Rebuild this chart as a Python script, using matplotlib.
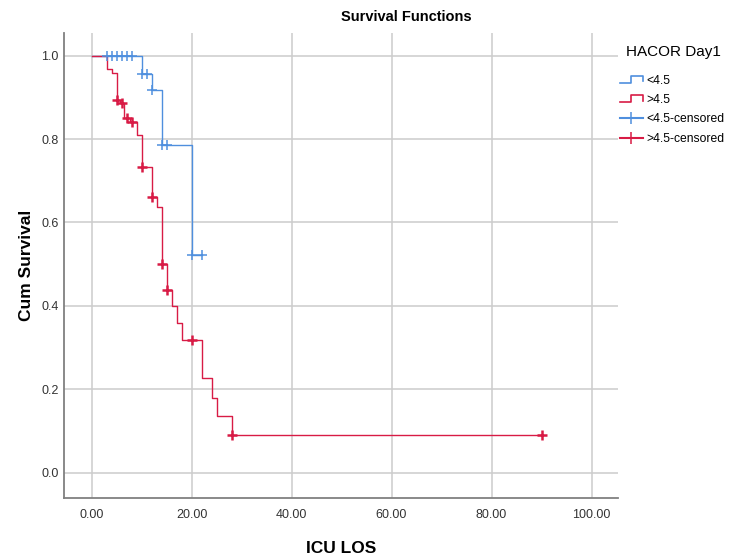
import matplotlib
matplotlib.use("Agg")
import matplotlib.pyplot as plt
from matplotlib.lines import Line2D
from matplotlib.legend_handler import HandlerBase

plt.rcParams['font.family'] = ['Liberation Sans', 'DejaVu Sans']

# Kaplan-Meier steps, HACOR Day1 < 4.5
low_times = [0, 10, 12, 14, 20, 22]
low_surv = [1.0, 0.956, 0.918, 0.786, 0.523, 0.523]
low_cens_t = [3, 4, 5, 6, 7, 8, 10, 11, 12, 14, 15, 20, 22]
low_cens_s = [1.0, 1.0, 1.0, 1.0, 1.0, 1.0, 0.956, 0.956, 0.918, 0.786, 0.786, 0.523, 0.523]

# HACOR Day1 > 4.5
high_times = [0, 3, 4, 5, 5.6, 6.4, 7.6, 9, 10, 12, 13, 14, 15, 16, 17, 18, 22, 24, 25, 28, 90]
high_surv = [1.0, 0.968, 0.958, 0.894, 0.886, 0.850, 0.840, 0.810, 0.732, 0.662, 0.638,
             0.500, 0.438, 0.400, 0.358, 0.318, 0.227, 0.180, 0.135, 0.090, 0.090]
high_cens_t = [5, 6, 7, 8, 10, 12, 14, 15, 20, 28, 90]
high_cens_s = [0.894, 0.886, 0.850, 0.840, 0.732, 0.662, 0.500, 0.438, 0.318, 0.090, 0.090]

xticks = [0, 20, 40, 60, 80, 100]
yticks = [0.0, 0.2, 0.4, 0.6, 0.8, 1.0]

blue = '#4f8fde'
red = '#d81b45'


class StepHandler(HandlerBase):
    # draws the little step glyph SPSS uses in its legend
    def create_artists(self, legend, orig_handle, xdescent, ydescent,
                       width, height, fontsize, trans):
        x0, y0 = -xdescent, -ydescent
        xs = [x0, x0 + 0.5 * width, x0 + 0.5 * width, x0 + width, x0 + width]
        ys = [y0 + 0.1 * height, y0 + 0.1 * height, y0 + 0.95 * height,
              y0 + 0.95 * height, y0 + 0.3 * height]
        ln = Line2D(xs, ys, color=orig_handle.get_color(), lw=1.2, transform=trans)
        return [ln]


fig = plt.figure(figsize=(7.3, 5.57), dpi=100)
ax = fig.add_axes([0.0877, 0.106, 0.759, 0.835])

ax.grid(True, color='#cccccc', lw=1.1)
ax.set_axisbelow(True)

low_line, = ax.step(low_times, low_surv, where='post', color=blue, lw=1.0)
high_line, = ax.step(high_times, high_surv, where='post', color=red, lw=1.0)
low_c, = ax.plot(low_cens_t, low_cens_s, ls='none', marker='+', ms=7, mew=1.1, color=blue)
high_c, = ax.plot(high_cens_t, high_cens_s, ls='none', marker='+', ms=7, mew=1.8, color=red)

ax.set_xlim(-5.5, 105.3)
ax.set_ylim(-0.061, 1.055)
ax.set_xticks(xticks)
ax.set_xticklabels(['%.2f' % v for v in xticks])
ax.set_yticks(yticks)
ax.set_yticklabels(['%.1f' % v for v in yticks])
ax.tick_params(axis='x', length=0, pad=8, labelsize=9, labelcolor='#333333')
ax.tick_params(axis='y', length=0, pad=4, labelsize=9, labelcolor='#333333')

for s in ['top', 'right']:
    ax.spines[s].set_visible(False)
for s in ['left', 'bottom']:
    ax.spines[s].set_color('#808080')
    ax.spines[s].set_linewidth(1.3)

ax.set_xlabel('ICU LOS', fontsize=12.5, fontweight='bold', labelpad=14)
ax.set_ylabel('Cum Survival', fontsize=12.5, fontweight='bold', labelpad=5)
fig.text(0.556, 0.97, 'Survival Functions', ha='center', va='center',
         fontsize=10.5, fontweight='bold')

# legend title drawn separately so the gap to the entries matches
fig.text(626 / 730, 1 - 52 / 557, 'HACOR Day1', ha='left', va='center', fontsize=11)

low_leg = Line2D([], [], color=blue, marker='+', ms=8, mew=1.1)
high_leg = Line2D([], [], color=red, marker='+', ms=8, mew=1.1)
leg = fig.legend([low_line, high_line, low_leg, high_leg],
                 ['<4.5', '>4.5', '<4.5-censored', '>4.5-censored'],
                 loc='upper left', bbox_to_anchor=(620 / 730, 1 - 75 / 557),
                 frameon=False, fontsize=8.7,
                 handlelength=1.9, handletextpad=0.3, labelspacing=0.6,
                 borderpad=0, borderaxespad=0, numpoints=1,
                 handler_map={low_line: StepHandler(), high_line: StepHandler()})

fig.savefig('out.png', dpi=100)
